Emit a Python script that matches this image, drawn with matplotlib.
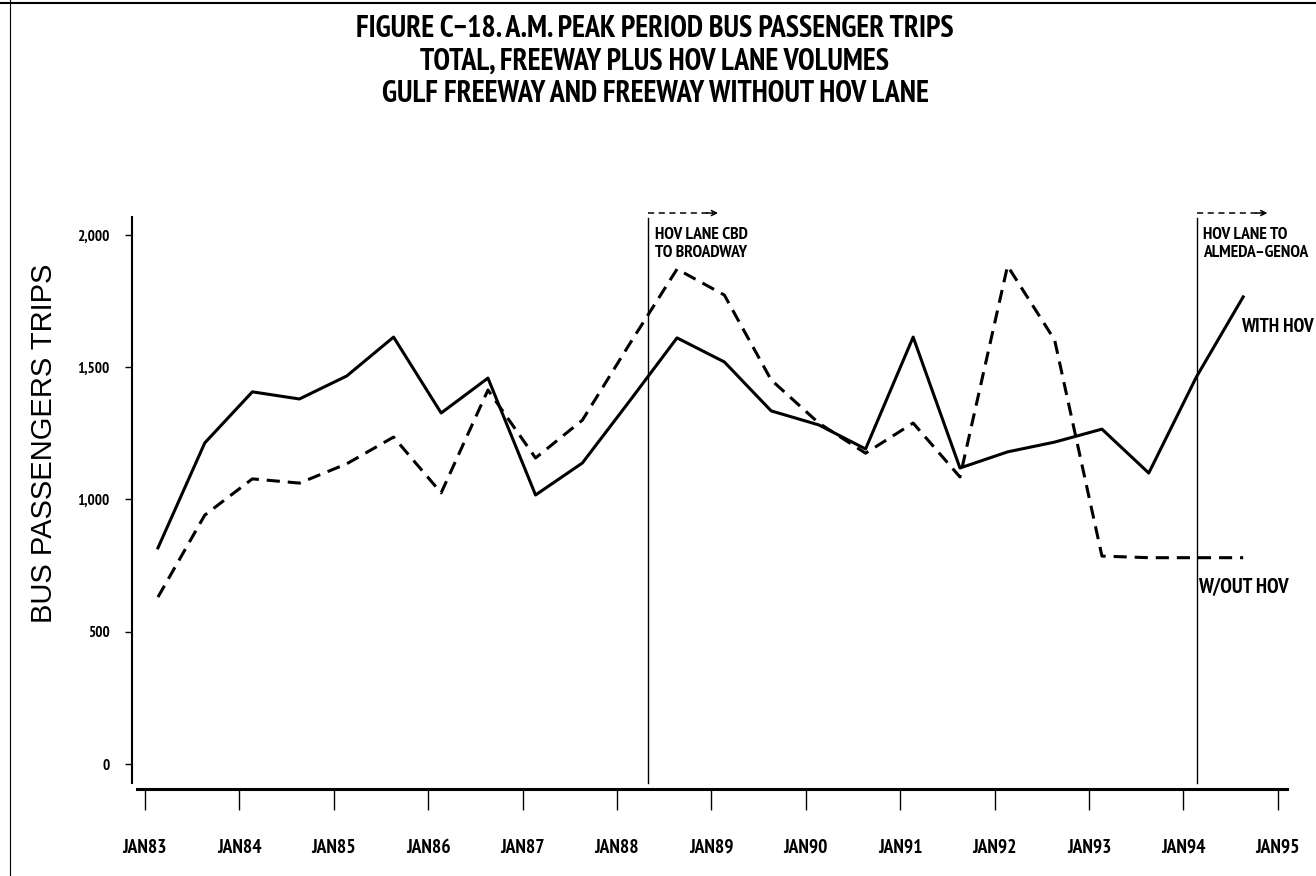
import os
import numpy as np
import pandas as pd
import matplotlib
matplotlib.use("Agg")
import matplotlib.pyplot as plt
from matplotlib import font_manager as fm
from matplotlib.lines import Line2D

# semi-annual A.M. peak counts, Feb and Aug of each year
survey_dates = pd.to_datetime([f"{y}-{m}-20" for y in range(1983, 1995) for m in ("02", "08")])
with_hov = [817, 1214, 1407, 1380, 1467, 1614, 1327, 1459, 1017, 1138, 1374, 1611,
            1520, 1335, 1282, 1191, 1614, 1119, 1180, 1217, 1266, 1100, 1463, 1766]
without_hov = [631, 941, 1078, 1062, 1135, 1236, 1025, 1414, 1157, 1300, 1590, 1871,
               1773, 1452, 1289, 1175, 1289, 1085, 1883, 1603, 786, 780, 780, 780]

tick_years = list(range(1983, 1996))
tick_labels = [f"JAN{y % 100:02d}" for y in tick_years]
y_ticks = [0, 500, 1000, 1500, 2000]
y_labels = ["0", "500", "1,000", "1,500", "2,000"]

# openings of HOV lane segments
events = [(1988.33, 1989.07, ["HOV LANE CBD", "TO BROADWAY"]),
          (1994.14, 1994.89, ["HOV LANE TO", "ALMEDA\u2013GENOA"])]

title_lines = ["FIGURE C\u221218. A.M. PEAK PERIOD BUS PASSENGER TRIPS",
               "TOTAL, FREEWAY PLUS HOV LANE VOLUMES",
               "GULF FREEWAY AND FREEWAY WITHOUT HOV LANE"]


def narrow_bold_font():
    # look for a condensed bold sans face, else plain Liberation Sans Bold
    best, best_rank = None, 99
    for f in fm.fontManager.ttflist:
        name = f.name.lower()
        fn = os.path.basename(f.fname).lower()
        if f.style != "normal" or "serif" in name or "mono" in name:
            continue
        if not (f.weight in (700, "bold") or "bold" in fn) or "extrabold" in fn or "semibold" in fn:
            continue
        if "narrow" in name or "narrow" in fn:
            rank = 0
        elif "semicondensed" in fn or "semi-condensed" in str(f.stretch):
            rank = 2
        elif "extracondensed" in fn:
            rank = 3
        elif "condensed" in fn or "condensed" in name or f.stretch == "condensed":
            rank = 1
        else:
            continue
        if rank < best_rank:
            best, best_rank = f.fname, rank
    if best is None:
        return fm.FontProperties(family="Liberation Sans", weight="bold"), 0.82
    return fm.FontProperties(fname=best), 1.0


bold_fp, squeeze = narrow_bold_font()


def fp(size):
    p = bold_fp.copy()
    p.set_size(size * squeeze)
    return p


def decimal_year(d):
    return d.year + (d.dayofyear - 1) / 365.0


x = np.array([decimal_year(d) for d in survey_dates])

W, H = 1316, 876
fig = plt.figure(figsize=(W / 100, H / 100), dpi=100)
ax = fig.add_axes([132 / W, 1 - 789 / H, (1290 - 132) / W, (789 - 217) / H])

ax.plot(x, with_hov, color="black", lw=2.2)
ax.plot(x, without_hov, color="black", lw=2.2, linestyle=(0, (4.3, 2.6)))

ax.set_xlim(1982.862, 1995.129)
ax.set_ylim(-94.5, 2068)

for spine in ("top", "right"):
    ax.spines[spine].set_visible(False)
ax.spines["left"].set_linewidth(1.5)
ax.spines["left"].set_bounds(-72, 2068)
ax.spines["bottom"].set_linewidth(2.2)
ax.spines["bottom"].set_bounds(1982.915, 1995.097)

ax.set_xticks(tick_years)
ax.set_xticklabels(tick_labels)
ax.set_yticks(y_ticks)
ax.set_yticklabels(y_labels)
for lbl in ax.get_xticklabels():
    lbl.set_fontproperties(fp(14))
for lbl in ax.get_yticklabels():
    lbl.set_fontproperties(fp(11))
ax.tick_params(axis="x", direction="out", length=15, width=1, pad=21)
ax.tick_params(axis="y", direction="out", length=5, width=1, pad=11)

ax.set_ylabel("BUS PASSENGERS TRIPS", fontfamily="Liberation Sans", fontsize=21)
ax.yaxis.set_label_coords(-(132 - 58) / (1290 - 132), (789 - 443) / (789 - 217))

for x0, x1, lines in events:
    ax.plot([x0, x0], [-72, 2064], color="black", lw=1.0, clip_on=False)
    ax.plot([x0, x1 - 0.05], [2083, 2083], color="black", lw=1.1,
            linestyle=(0, (4, 3)), clip_on=False)
    ax.annotate("", xy=(x1, 2083), xytext=(x1 - 0.12, 2083), annotation_clip=False,
                arrowprops=dict(arrowstyle="->", lw=1.1, color="black",
                                mutation_scale=9, shrinkA=0, shrinkB=0))
    ax.text(x0 + 0.07, 1985, lines[0], fontproperties=fp(12.6), va="baseline")
    ax.text(x0 + 0.07, 1917, lines[1], fontproperties=fp(12.6), va="baseline")

ax.text(1994.61, 1633, "WITH HOV", fontproperties=fp(14), va="baseline", clip_on=False)
ax.text(1994.15, 646, "W/OUT HOV", fontproperties=fp(15), va="baseline", clip_on=False)

for line, base in zip(title_lines, (37, 70, 102)):
    fig.text(655 / W, 1 - base / H, line, ha="center", va="baseline", fontproperties=fp(21.6))

# page frame edges
fig.add_artist(Line2D([0, 1], [1 - 3 / H, 1 - 3 / H], color="black", lw=1.5))
fig.add_artist(Line2D([10 / W, 10 / W], [0, 1], color="black", lw=0.8))

fig.savefig("out.png", dpi=100)
